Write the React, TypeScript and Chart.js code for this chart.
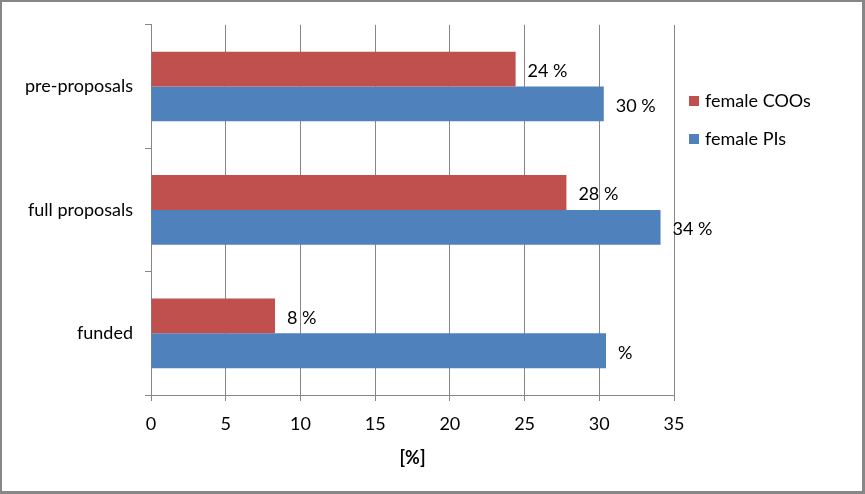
import React, { useEffect, useRef } from "react";
import { Chart, registerables } from "chart.js";

Chart.register(...registerables);

const categories = ["pre-proposals", "full proposals", "funded"];
const cooValues = [24.4, 27.8, 8.3];
const piValues = [30.3, 34.1, 30.45];
const cooLabels = ["24 %", "28 %", "8 %"];
const piLabels = ["30 %", "34 %", "%"];
const seriesNames = ["female COOs", "female PIs"];
const xTicks = [0, 5, 10, 15, 20, 25, 30, 35];

const FONT = "Lato";
const FS = 18;

export default function App() {
  const ref = useRef<HTMLCanvasElement | null>(null);

  useEffect(() => {
    const canvas = ref.current;
    if (!canvas) return;
    const labelsBySeries = [cooLabels, piLabels];

    const valueLabels = {
      id: "valueLabels",
      afterDatasetsDraw(chart: any) {
        const ctx = chart.ctx;
        ctx.save();
        ctx.font = `${FS}px ${FONT}`;
        ctx.fillStyle = "#000";
        ctx.textAlign = "left";
        ctx.textBaseline = "middle";
        chart.data.datasets.forEach((ds: any, di: number) => {
          const meta = chart.getDatasetMeta(di);
          meta.data.forEach((bar: any, i: number) => {
            ctx.fillText(labelsBySeries[di][i], bar.x + 12, bar.y + 2);
          });
        });
        ctx.restore();
      },
    };

    const sideLegend = {
      id: "sideLegend",
      afterDraw(chart: any) {
        const ctx = chart.ctx;
        ctx.save();
        ctx.font = `${FS}px ${FONT}`;
        ctx.textBaseline = "middle";
        ctx.textAlign = "left";
        const x0 = chart.chartArea.right + 15;
        chart.data.datasets.forEach((ds: any, di: number) => {
          const yc = 99 + di * 38;
          ctx.fillStyle = ds.backgroundColor;
          ctx.fillRect(x0, yc - 5, 10, 10);
          ctx.fillStyle = "#000";
          ctx.fillText(ds.label, x0 + 16, yc);
        });
        ctx.restore();
      },
    };

    const chart = new Chart(canvas, {
      type: "bar",
      data: {
        labels: categories,
        datasets: [
          {
            label: seriesNames[0],
            data: cooValues,
            backgroundColor: "#C0504D",
            barPercentage: 1,
            categoryPercentage: 0.565,
          },
          {
            label: seriesNames[1],
            data: piValues,
            backgroundColor: "#4F81BD",
            barPercentage: 1,
            categoryPercentage: 0.565,
          },
        ],
      },
      options: {
        indexAxis: "y",
        responsive: false,
        animation: false,
        layout: { padding: { left: 0, right: 188, top: 21, bottom: 21 } },
        plugins: {
          legend: { display: false },
          tooltip: { enabled: false },
        },
        scales: {
          x: {
            min: xTicks[0],
            max: xTicks[xTicks.length - 1],
            afterBuildTicks: (scale: any) => {
              scale.ticks = xTicks.map((v) => ({ value: v }));
            },
            afterFit: (scale: any) => {
              scale.height = 75;
            },
            grid: {
              color: "#868686",
              lineWidth: 1,
              drawTicks: true,
              tickLength: 6,
              tickColor: "#868686",
            },
            border: { display: true, color: "#868686" },
            ticks: {
              color: "#000",
              font: { family: FONT, size: FS },
              padding: 12,
              maxRotation: 0,
            },
            title: {
              display: true,
              text: "[%]",
              color: "#000",
              font: { family: FONT, size: FS, weight: "bold" },
              padding: { top: 4, bottom: 1 },
            },
          },
          y: {
            offset: true,
            afterFit: (scale: any) => {
              scale.width = 149;
            },
            grid: {
              offset: true,
              drawOnChartArea: false,
              drawTicks: true,
              tickLength: 6,
              tickColor: "#868686",
              color: "#868686",
            },
            border: { display: true, color: "#868686" },
            ticks: {
              color: "#000",
              font: { family: FONT, size: FS },
              padding: 12,
            },
          },
        },
      },
      plugins: [valueLabels, sideLegend],
    });

    return () => chart.destroy();
  }, []);

  return (
    <div
      style={{
        position: "fixed",
        left: 0,
        top: 0,
        width: 865,
        height: 494,
        boxSizing: "border-box",
        borderStyle: "solid",
        borderColor: "#878787",
        borderWidth: "2px 3px 3px 2px",
        background: "#fff",
      }}
    >
      <canvas ref={ref} width={860} height={489} style={{ display: "block" }} />
    </div>
  );
}
